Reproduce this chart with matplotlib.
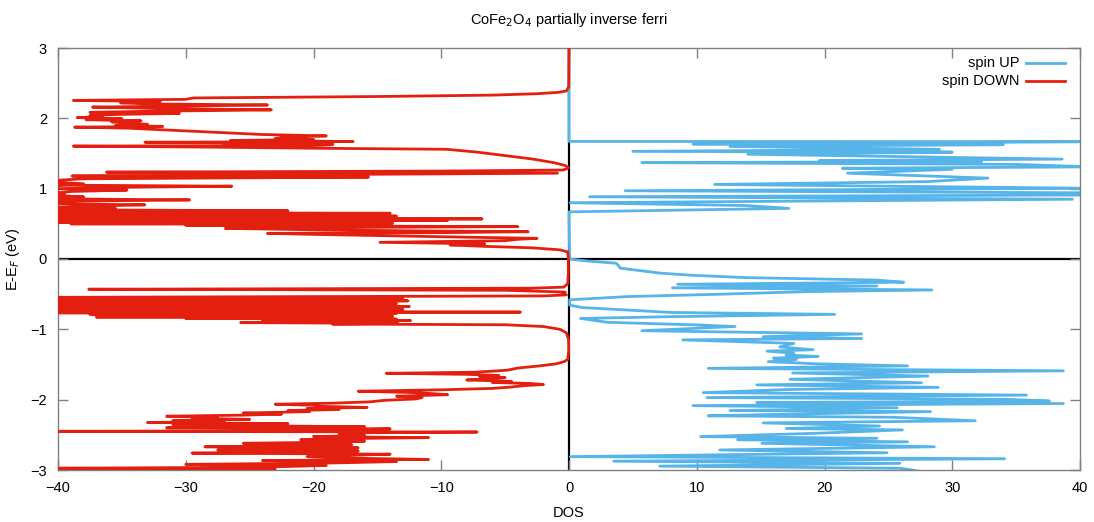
import numpy as np
import matplotlib.pyplot as plt
from matplotlib.lines import Line2D

plt.rcParams['font.family'] = ['Liberation Sans', 'DejaVu Sans']
plt.rcParams['font.size'] = 10.5

# Densidad de estados (energia en eV, DOS)
up_energy = [-3.01, -2.975, -2.945, -2.905, -2.875, -2.84, -2.81, -2.755, -2.715, -2.67,
             -2.62, -2.60, -2.57, -2.55, -2.525, -2.48, -2.43, -2.41, -2.375, -2.33,
             -2.30, -2.25, -2.23, -2.205, -2.17, -2.155, -2.115, -2.085, -2.055, -2.04,
             -2.02, -1.995, -1.97, -1.935, -1.90, -1.855, -1.825, -1.79, -1.76, -1.71,
             -1.665, -1.62, -1.59, -1.555, -1.52, -1.49, -1.46, -1.43, -1.41, -1.385,
             -1.365, -1.34, -1.31, -1.29, -1.25, -1.2, -1.15, -1.13, -1.105, -1.065,
             -1.02, -0.96, -0.94, -0.90, -0.845, -0.82, -0.787, -0.76, -0.725, -0.69,
             -0.655, -0.58, -0.535, -0.50, -0.465, -0.44, -0.41, -0.385, -0.36, -0.33,
             -0.30, -0.265, -0.23, -0.20, -0.13, -0.10, -0.06, -0.03, 0.0, 0.67,
             0.72, 0.76, 0.80, 0.85, 0.885, 0.91, 0.94, 0.97, 1.005, 1.06,
             1.10, 1.15, 1.22, 1.275, 1.29, 1.31, 1.345, 1.37, 1.385, 1.40,
             1.42, 1.49, 1.52, 1.53, 1.56, 1.60, 1.625, 1.635, 1.668, 1.672, 3.0]
up_dos = [27.2, 25.9, 7.1, 25.9, 3.5, 34.1, 0.1, 24.9, 11.8, 28.6,
          15.1, 26.5, 13.2, 24.1, 10.3, 19.0, 26.1, 17.0, 24.3, 15.2,
          31.8, 25.3, 10.9, 17.5, 28.3, 12.6, 25.7, 9.7, 38.7, 14.7,
          37.6, 34.3, 10.8, 35.8, 10.5, 17.3, 28.9, 14.7, 27.6, 17.3,
          28.1, 17.5, 38.7, 10.9, 26.5, 19.4, 15.6, 17.8, 16.0, 19.5,
          17.0, 17.6, 15.5, 19.1, 16.5, 17.6, 8.9, 22.9, 15.2, 22.9,
          5.7, 13.0, 10.5, 3.0, 0.9, 8.0, 20.8, 8.0, 4.5, 1.0,
          0.05, 0.05, 4.5, 12.0, 18.3, 28.4, 8.1, 24.1, 8.5, 26.2,
          24.1, 13.9, 9.5, 7.1, 4.0, 3.9, 3.7, 1.5, 0.05, 0.0,
          17.2, 13.9, 0.1, 39.4, 1.6, 41.0, 42.0, 4.4, 41.0, 11.4,
          28.0, 32.8, 21.8, 30.0, 21.4, 41.0, 35.0, 5.7, 32.3, 19.6,
          38.6, 14.0, 30.0, 5.0, 29.0, 12.6, 34.0, 9.7, 41.0, 0.0, 0.0]

down_energy = [-3.00, -2.985, -2.975, -2.965, -2.95, -2.935, -2.92, -2.90, -2.88, -2.865,
               -2.85, -2.83, -2.81, -2.79, -2.775, -2.76, -2.745, -2.73, -2.715, -2.70,
               -2.685, -2.67, -2.655, -2.64, -2.62, -2.605, -2.59, -2.57, -2.555, -2.54,
               -2.525, -2.51, -2.49, -2.47, -2.46, -2.45, -2.44, -2.43, -2.415, -2.40,
               -2.385, -2.37, -2.355, -2.34, -2.325, -2.31, -2.295, -2.28, -2.265, -2.25,
               -2.235, -2.22, -2.205, -2.19, -2.17, -2.155, -2.14, -2.125, -2.11, -2.095,
               -2.08, -2.065, -2.05, -2.03, -2.01, -1.99, -1.97, -1.95, -1.93, -1.915,
               -1.90, -1.88, -1.86, -1.84, -1.82, -1.80, -1.785, -1.77, -1.755, -1.74,
               -1.72, -1.70, -1.685, -1.67, -1.655, -1.64, -1.625, -1.61, -1.595, -1.58,
               -1.55, -1.52, -1.49, -1.46, -1.43, -1.30, -1.15, -1.05, -1.00, -0.96,
               -0.935, -0.925, -0.915, -0.905, -0.895, -0.885, -0.875, -0.865, -0.855, -0.845,
               -0.835, -0.825, -0.815, -0.805, -0.795, -0.785, -0.775, -0.765, -0.755, -0.745,
               -0.735, -0.725, -0.715, -0.705, -0.695, -0.685, -0.675, -0.665, -0.655, -0.645,
               -0.635, -0.625, -0.615, -0.605, -0.595, -0.585, -0.575, -0.565, -0.555, -0.545,
               -0.525, -0.51, -0.49, -0.47, -0.445, -0.43, -0.415, -0.40, -0.35, -0.20,
               0.0, 0.10, 0.13, 0.16, 0.18, 0.20, 0.215, 0.237, 0.26, 0.28,
               0.294, 0.31, 0.33, 0.35, 0.365, 0.375, 0.388, 0.40, 0.415, 0.436,
               0.448, 0.46, 0.47, 0.48, 0.49, 0.50, 0.51, 0.52, 0.53, 0.54,
               0.55, 0.56, 0.57, 0.58, 0.59, 0.60, 0.61, 0.62, 0.63, 0.64,
               0.65, 0.66, 0.67, 0.685, 0.70, 0.72, 0.735, 0.75, 0.77, 0.785,
               0.80, 0.82, 0.84, 0.855, 0.87, 0.885, 0.90, 0.92, 0.94, 0.96,
               0.98, 1.00, 1.02, 1.035, 1.05, 1.07, 1.09, 1.12, 1.14, 1.165,
               1.18, 1.20, 1.22, 1.235, 1.25, 1.265, 1.28, 1.30, 1.33, 1.37,
               1.42, 1.47, 1.52, 1.56, 1.575, 1.59, 1.605, 1.615, 1.625, 1.635,
               1.645, 1.66, 1.67, 1.685, 1.70, 1.715, 1.735, 1.75, 1.77, 1.80,
               1.83, 1.86, 1.875, 1.885, 1.90, 1.915, 1.93, 1.95, 1.965, 1.98,
               1.995, 2.01, 2.025, 2.04, 2.055, 2.07, 2.085, 2.10, 2.12, 2.14,
               2.16, 2.175, 2.19, 2.205, 2.22, 2.24, 2.255, 2.27, 2.29, 2.31,
               2.33, 2.35, 2.37, 2.39, 2.45, 3.00]
down_dos = [-27, -23, -40, -29, -22, -19, -30, -18.5, -13.5, -24,
            -11, -17.5, -20.5, -17, -14, -29.5, -18, -16.5, -27.5, -19,
            -16.5, -28.5, -18.5, -17, -25.5, -19, -16, -21, -18.5, -11,
            -20, -16, -18, -16, -7.2, -40, -16, -17, -14, -31.5,
            -16, -25.5, -31, -22, -33, -27, -31, -25, -29.5, -27.5,
            -31.5, -25.5, -22.5, -25.5, -20.3, -22, -18, -20.5, -15.8, -19.5,
            -20, -23, -18.5, -15.5, -14.5, -12, -11.5, -13.5, -9.5, -10.6,
            -12, -16.5, -10, -6, -4.5, -3.5, -2.0, -3, -6, -4.5,
            -8, -6, -5, -7, -5.5, -8, -14.3, -7.5, -6, -4.8,
            -4.0, -2.3, -1.0, -0.4, -0.1, -0.02, -0.03, -0.2, -0.7, -2.0,
            -5, -18.5, -13.4, -25.7, -13.6, -18.5, -12.4, -24, -13.5, -30,
            -14, -37, -13.8, -36.5, -15, -37.5, -13.5, -40, -3.8, -40,
            -14, -40, -13, -40, -14.5, -40, -12.5, -40, -13.8, -40,
            -13.5, -40, -14, -40, -12.6, -40, -14.3, -40, -13, -40,
            -2, -0.2, -0.5, -0.3, -5, -37.6, -3, -0.4, -0.1, -0.05,
            -0.05, -0.1, -0.7, -3, -6.7, -9.3, -6.6, -14.8, -5, -4,
            -2.5, -8, -14, -20, -23.6, -10, -3.2, -12, -20, -26.9,
            -18, -4.0, -20, -30, -14, -39, -13.8, -40, -14, -40,
            -9.5, -40, -6.8, -40, -14, -40, -13.5, -40, -18.5, -40,
            -14, -40, -37, -22, -40, -35.5, -40, -38, -33.2, -40,
            -38.7, -40, -29.7, -39.7, -40, -38, -40, -39.5, -40, -39,
            -34.6, -40, -34.5, -26.4, -40, -38, -40, -40, -38, -15.7,
            -38.9, -20, -0.9, -36.2, -10, -0.5, -0.2, -0.05, -0.3, -1.2,
            -2.8, -5.0, -7.2, -9.6, -20, -27.7, -38.8, -20, -18.5, -27,
            -18.5, -33.2, -16.9, -26.5, -20, -23, -22, -19, -24, -27.5,
            -31, -34.5, -38.7, -31.8, -35.5, -33, -34.4, -35.8, -33.5, -37.8,
            -35, -38.5, -36.5, -37.5, -35.4, -30.5, -37.5, -33, -23.3, -32,
            -37.3, -30, -23.6, -33, -35.1, -32, -38.8, -30, -29.4, -15,
            -6, -2.5, -0.8, -0.2, -0.02, 0.0]

xticks = [-40, -30, -20, -10, 0, 10, 20, 30, 40]
yticks = [-3, -2, -1, 0, 1, 2, 3]

blue = '#56b4e9'
red = '#e3200f'

fig = plt.figure(figsize=(10.94, 5.22), dpi=100)
ax = fig.add_axes([58 / 1094, 1 - 470 / 522, 1022 / 1094, 422 / 522])

# Ejes en cero, debajo de las curvas
ax.axhline(0, color='black', lw=1.6, zorder=1)
ax.axvline(0, color='black', lw=1.6, zorder=1)

ax.plot(up_dos, up_energy, color=blue, lw=2.0, zorder=2)
ax.plot(down_dos, down_energy, color=red, lw=2.0, zorder=3)

ax.set_xlim(-40, 40)
ax.set_ylim(-3, 3)
ax.set_xticks(xticks)
ax.set_yticks(yticks)
ax.tick_params(direction='in', length=7, width=1, color='#808080',
               top=True, right=True, labelsize=10.5, pad=8)
for s in ax.spines.values():
    s.set_color('#808080')
    s.set_linewidth(1)

ax.set_title('CoFe$_2$O$_4$ partially inverse ferri', fontsize=10.5, pad=17)
ax.set_xlabel('DOS', fontsize=10.5, labelpad=8)
ax.set_ylabel('E-E$_F$ (eV)', fontsize=10.5, labelpad=6)

# Leyenda estilo gnuplot: texto a la derecha alineado, linea despues
for label, col, yy in [('spin UP', blue, 0.9645), ('spin DOWN', red, 0.9225)]:
    ax.text(0.941, yy, label, transform=ax.transAxes, ha='right', va='center',
            fontsize=10.5)
    ax.add_line(Line2D([0.947, 0.985], [yy, yy], transform=ax.transAxes,
                       color=col, lw=2.0))

fig.savefig('out.png', dpi=100)
